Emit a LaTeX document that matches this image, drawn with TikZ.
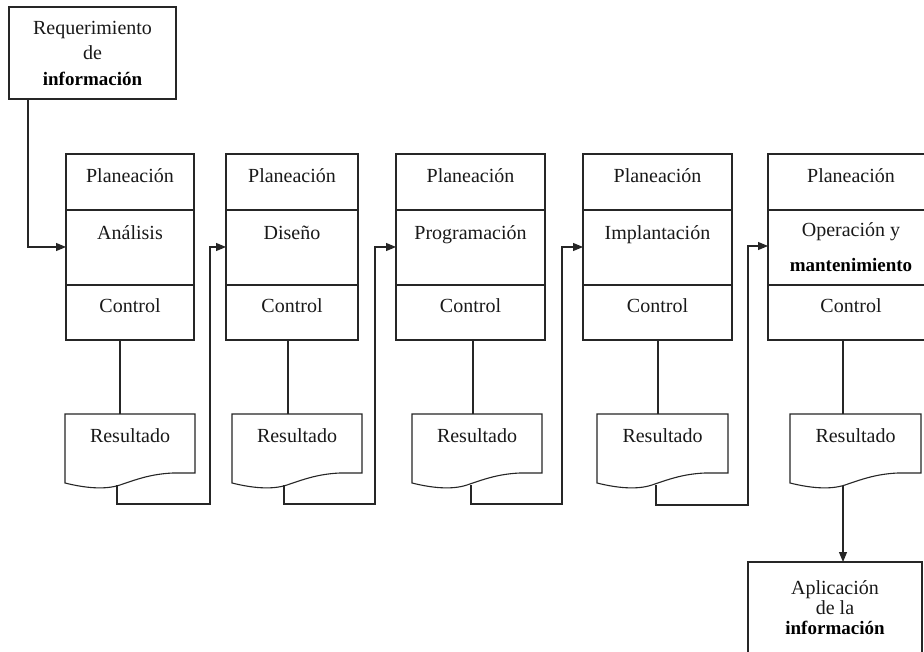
\documentclass[tikz,border=0pt]{standalone}
\usepackage{fontspec}
\setmainfont{Liberation Serif}
\usetikzlibrary{arrows.meta,calc}
\begin{document}
\begin{tikzpicture}[x=1pt,y=-1pt,
  ln/.style={draw=black!85,line width=1.1pt},
  arr/.style={ln,-{Triangle[length=10pt,width=8pt]}},
  sec/.style={ln,rectangle,inner sep=0pt,outer sep=0pt,anchor=north west},
  txt/.style={anchor=base,inner sep=0pt,text=black!90,font=\fontsize{20}{24}\selectfont},
  btxt/.style={anchor=base,inner sep=0pt,text=black,font=\fontsize{19}{24}\selectfont\bfseries}]
\useasboundingbox (0,0) rectangle (924,652);
\clip (0,0) rectangle (924,652);
\fill[white] (0,0) rectangle (924,652);

% top box
\node[sec,minimum width=167,minimum height=92] (rq) at (9,7) {};
\node[txt] (rqa) at (92.5,35) {Requerimiento};
\node[txt] (rqb) at (92.5,60) {de};
\node[btxt] (rqc) at (92.5,86) {información};

% stage boxes
\foreach \i/\x/\w in {1/66/128,2/226/132,3/396/149,4/583/149,5/768/166}{
  \node[sec,minimum width=\w,minimum height=56] (p\i) at (\x,154) {};
  \node[sec,minimum width=\w,minimum height=75] (m\i) at (\x,210) {};
  \node[sec,minimum width=\w,minimum height=55] (c\i) at (\x,285) {};
  \node[txt] (tp\i) at ([yshift=-29pt]p\i.north) {Planeación};
  \node[txt] (tc\i) at ([yshift=-28pt]c\i.north) {Control};
}
\node[txt] (tm1) at ([yshift=-30pt]m1.north) {Análisis};
\node[txt] (tm2) at ([yshift=-30pt]m2.north) {Diseño};
\node[txt] (tm3) at ([yshift=-30pt]m3.north) {Programación};
\node[txt] (tm4) at ([yshift=-30pt]m4.north) {Implantación};
\node[txt] (tm5a) at ([yshift=-27pt]m5.north) {Operación y};
\node[btxt] (tm5b) at ([yshift=-62pt]m5.north) {mantenimiento};

% Resultado document shapes
\foreach \i/\a/\b in {1/65/195,2/232/362,3/412/542,4/597/728,5/790/921}{
  \draw[ln] (\a,414) -- (\b,414) -- (\b,473) -- (\a+108,473)
     .. controls (\a+85,474) and (\a+70,480) .. (\a+55,485)
     .. controls (\a+40,490) and (\a+20,488) .. (\a,483) -- cycle;
  \node[txt] (r\i) at ({(\a+\b)/2},442) {Resultado};
}

% final box
\node[sec,minimum width=174,minimum height=110] (ap) at (748,562) {};
\node[txt] (apa) at (835,594) {Aplicación};
\node[txt] (apb) at (835,614) {de la};
\node[btxt] (apc) at (835,634) {información};

% coordinates
\coordinate (s0) at (28,99);   \coordinate (k0) at (28,247);
\foreach \i/\d in {1/120,2/288,3/473,4/658,5/843}{
  \coordinate (d\i a) at (\d,340); \coordinate (d\i b) at (\d,414);
}
\foreach \i/\o/\v/\yb/\ya in {1/117/210/504/247,2/284/375/504/247,3/471/562/504/247,4/656/748/505/246}{
  \coordinate (o\i) at (\o,485);
  \coordinate (ob\i) at (\o,\yb);
  \coordinate (vb\i) at (\v,\yb);
  \coordinate (vt\i) at (\v,\ya);
}
\coordinate (o5) at (843,486);

% connectors
\draw[arr] (s0) -- (k0) -- (k0 -| m1.west);
\foreach \i in {1,...,5}{ \draw[ln] (d\i a) -- (d\i b); }
\foreach \i/\j in {1/2,2/3,3/4,4/5}{
  \draw[arr] (o\i) -- (ob\i) -- (vb\i) -- (vt\i) -- (vt\i -| m\j.west);
}
\draw[arr] (o5) -- (o5 |- ap.north);
\end{tikzpicture}
\end{document}
